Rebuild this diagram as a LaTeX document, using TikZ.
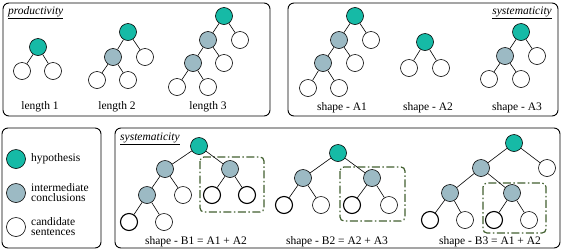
\documentclass[tikz,border=0pt]{standalone}
\usepackage{fontspec}
\setmainfont{Liberation Serif}
\definecolor{hypc}{RGB}{22,186,166}
\definecolor{midc}{RGB}{156,186,196}
\definecolor{dgreen}{RGB}{66,96,48}
\begin{document}
\begin{tikzpicture}[x=1pt,y=-1pt,
  nd/.style={circle,draw=black,line width=0.6pt,minimum size=17pt,inner sep=0pt},
  hypn/.style={nd,fill=hypc},
  midn/.style={nd,fill=midc},
  candn/.style={nd,fill=white},
  thk/.style={line width=1.1pt},
  legn/.style={minimum size=19pt},
  edge/.style={line width=0.6pt},
  frame/.style={draw=black,line width=0.9pt,rounded corners=6pt},
  dbox/.style={draw=dgreen,dash pattern=on 8pt off 2.5pt on 1.5pt off 2.5pt,line width=1.2pt,rounded corners=4pt},
  lbl/.style={font=\fontsize{11.5}{12}\selectfont,inner sep=0pt},
  ttl/.style={font=\fontsize{11.5}{12}\selectfont\itshape,inner sep=0pt},
  legt/.style={font=\fontsize{11.5}{10}\selectfont,inner sep=0pt,align=left,anchor=west}
]
\useasboundingbox (0,0) rectangle (562,250);
% frames
\draw[frame] (3,3) rectangle (270,116);
\draw[frame] (288,3) rectangle (558,116);
\draw[frame] (2,128) rectangle (101,248);
\draw[frame] (115,128) rectangle (560,248);

% productivity
\node[ttl,anchor=west] (tprod) at (8,13) {\underline{productivity}};
\node[hypn] (l1r) at (38,47) {};
\node[candn] (l1a) at (22,71) {};
\node[candn] (l1b) at (53,71) {};
\draw[edge] (l1r)--(l1a) (l1r)--(l1b);
\node[lbl] (l1t) at (40,107) {length 1};

\node[hypn] (l2r) at (128,32) {};
\node[midn] (l2a) at (113,57) {};
\node[candn] (l2b) at (145,57) {};
\node[candn] (l2c) at (97,80) {};
\node[candn] (l2d) at (128,80) {};
\draw[edge] (l2r)--(l2a) (l2r)--(l2b) (l2a)--(l2c) (l2a)--(l2d);
\node[lbl] (l2t) at (117,107) {length 2};

\node[hypn] (l3r) at (224,16) {};
\node[midn] (l3a) at (208,40) {};
\node[candn] (l3b) at (240,40) {};
\node[midn] (l3c) at (193,63) {};
\node[candn] (l3d) at (224,63) {};
\node[candn] (l3e) at (177,87) {};
\node[candn] (l3f) at (208,87) {};
\draw[edge] (l3r)--(l3a) (l3r)--(l3b) (l3a)--(l3c) (l3a)--(l3d) (l3c)--(l3e) (l3c)--(l3f);
\node[lbl] (l3t) at (208,107) {length 3};

% systematicity A
\node[ttl,anchor=east] (tsysa) at (552,13) {\underline{systematicity}};
\node[hypn] (a1r) at (355,16) {};
\node[midn] (a1a) at (339,40) {};
\node[candn] (a1b) at (371,40) {};
\node[midn] (a1c) at (323,63) {};
\node[candn] (a1d) at (355,63) {};
\node[candn] (a1e) at (308,88) {};
\node[candn] (a1f) at (339,88) {};
\draw[edge] (a1r)--(a1a) (a1r)--(a1b) (a1a)--(a1c) (a1a)--(a1d) (a1c)--(a1e) (a1c)--(a1f);
\node[lbl] (a1t) at (342,108) {shape - A1};

\node[hypn] (a2r) at (425,42) {};
\node[candn] (a2a) at (409,68) {};
\node[candn] (a2b) at (441,68) {};
\draw[edge] (a2r)--(a2a) (a2r)--(a2b);
\node[lbl] (a2t) at (428,108) {shape - A2};

\node[hypn] (a3r) at (521,32) {};
\node[midn] (a3a) at (505,56) {};
\node[candn] (a3b) at (537,56) {};
\node[candn] (a3c) at (489,79) {};
\node[candn] (a3d) at (521,79) {};
\draw[edge] (a3r)--(a3a) (a3r)--(a3b) (a3a)--(a3c) (a3a)--(a3d);
\node[lbl] (a3t) at (517,108) {shape - A3};

% legend
\node[hypn,legn] (lgh) at (16,159) {};
\node[legt] (lght) at (31,159) {hypothesis};
\node[midn,legn] (lgm) at (16,193) {};
\node[legt] (lgmt) at (31,193) {intermediate\\conclusions};
\node[candn,legn] (lgc) at (16,227) {};
\node[legt] (lgct) at (31,227) {candidate\\sentences};

% systematicity B
\node[ttl,anchor=west] (tsysb) at (120,139) {\underline{systematicity}};
\draw[dbox] (200,157) rectangle (264,212);
\node[hypn] (b1r) at (199,146) {};
\node[midn] (b1a) at (165,169) {};
\node[midn] (b1b) at (230,169) {};
\node[midn] (b1c) at (147,195) {};
\node[candn] (b1d) at (183,195) {};
\node[candn,thk] (b1e) at (212,195) {};
\node[candn,thk] (b1f) at (247,195) {};
\node[candn,thk] (b1g) at (129,222) {};
\node[candn] (b1h) at (164,222) {};
\draw[edge] (b1r)--(b1a) (b1r)--(b1b) (b1a)--(b1c) (b1a)--(b1d) (b1b)--(b1e) (b1b)--(b1f) (b1c)--(b1g) (b1c)--(b1h);
\node[lbl] (b1t) at (196,242) {shape - B1 = A1 + A2};

\draw[dbox] (340,167) rectangle (405,221);
\node[hypn] (b2r) at (338,153) {};
\node[midn] (b2a) at (303,178) {};
\node[midn] (b2b) at (372,178) {};
\node[candn,thk] (b2c) at (284,205) {};
\node[candn] (b2d) at (321,205) {};
\node[candn,thk] (b2e) at (352,205) {};
\node[candn] (b2f) at (389,205) {};
\draw[edge] (b2r)--(b2a) (b2r)--(b2b) (b2a)--(b2c) (b2a)--(b2d) (b2b)--(b2e) (b2b)--(b2f);
\node[lbl] (b2t) at (337,242) {shape - B2 = A2 + A3};

\draw[dbox] (483,183) rectangle (546,233);
\node[hypn] (b3r) at (514,143) {};
\node[midn] (b3a) at (481,168) {};
\node[candn] (b3b) at (547,168) {};
\node[midn] (b3c) at (450,193) {};
\node[midn] (b3d) at (512,193) {};
\node[candn,thk] (b3e) at (430,220) {};
\node[candn] (b3f) at (465,220) {};
\node[candn,thk] (b3g) at (494,220) {};
\node[candn] (b3h) at (529,220) {};
\draw[edge] (b3r)--(b3a) (b3r)--(b3b) (b3a)--(b3c) (b3a)--(b3d) (b3c)--(b3e) (b3c)--(b3f) (b3d)--(b3g) (b3d)--(b3h);
\node[lbl] (b3t) at (490,242) {shape - B3 = A1 + A2};
\end{tikzpicture}
\end{document}
